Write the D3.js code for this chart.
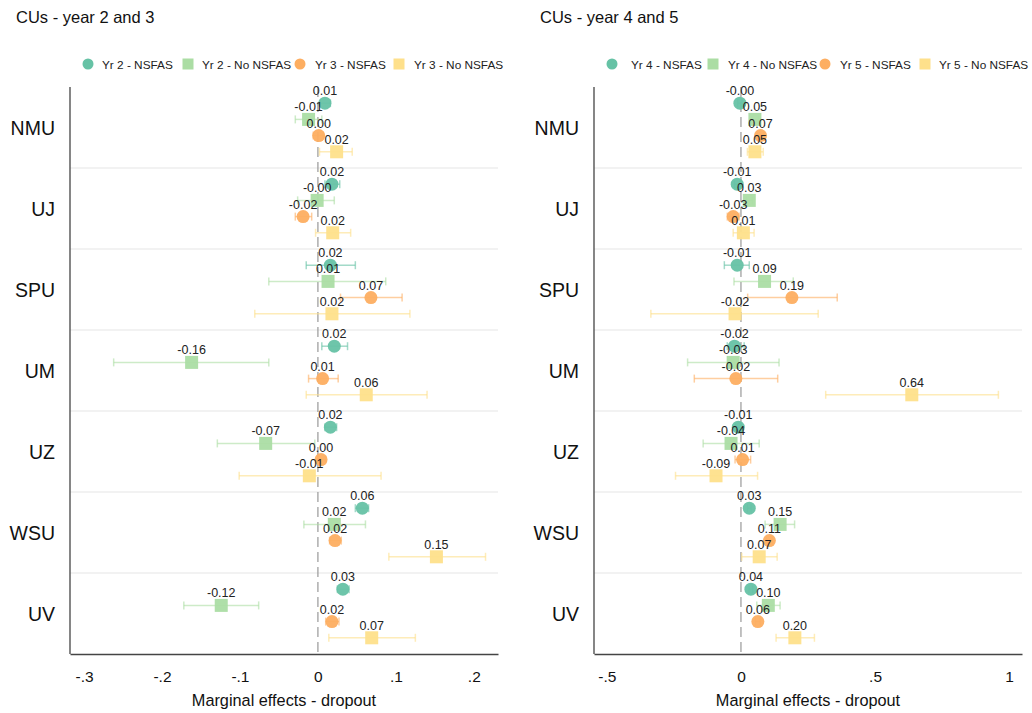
<!DOCTYPE html>
<html>
<head>
<meta charset="utf-8">
<script src="https://cdn.jsdelivr.net/npm/d3@7"></script>
<style>
  body { margin: 0; background: #fff; font-family: "Liberation Sans", Arial, sans-serif; }
  text { font-family: "Liberation Sans", Arial, sans-serif; }
</style>
</head>
<body>
<svg id="chart" width="1032" height="713"></svg>
<script>
var schools = ['NMU', 'UJ', 'SPU', 'UM', 'UZ', 'WSU', 'UV'];
var colors = ['#66c2a5', '#abdda4', '#fdae61', '#fee08b'];
var shapes = ['circle', 'square', 'circle', 'square'];

// left panel - year 2 and 3
var seriesLeft = ['Yr 2 - NSFAS', 'Yr 2 - No NSFAS', 'Yr 3 - NSFAS', 'Yr 3 - No NSFAS'];
var yr2Nsfas    = [0.009, 0.018, 0.016, 0.021, 0.016, 0.057, 0.032];
var yr2NsfasLo  = [0.003, 0.009, -0.015, 0.005, 0.009, 0.048, 0.025];
var yr2NsfasHi  = [0.016, 0.028, 0.048, 0.038, 0.024, 0.065, 0.040];
var yr2NoNsfas   = [-0.012, -0.001, 0.013, -0.162, -0.067, 0.021, -0.124];
var yr2NoNsfasLo = [-0.029, -0.026, -0.063, -0.262, -0.129, -0.018, -0.172];
var yr2NoNsfasHi = [0.005, 0.021, 0.087, -0.063, -0.004, 0.061, -0.076];
var yr3Nsfas    = [0.001, -0.019, 0.068, 0.006, 0.004, 0.022, 0.018];
var yr3NsfasLo  = [-0.006, -0.029, 0.029, -0.012, -0.001, 0.015, 0.010];
var yr3NsfasHi  = [0.007, -0.008, 0.108, 0.026, 0.010, 0.030, 0.027];
var yr3NoNsfas   = [0.024, 0.019, 0.018, 0.062, -0.011, 0.152, 0.069];
var yr3NoNsfasLo = [0.002, -0.003, -0.081, -0.015, -0.101, 0.091, 0.014];
var yr3NoNsfasHi = [0.044, 0.042, 0.118, 0.140, 0.081, 0.215, 0.125];

// right panel - year 4 and 5
var seriesRight = ['Yr 4 - NSFAS', 'Yr 4 - No NSFAS', 'Yr 5 - NSFAS', 'Yr 5 - No NSFAS'];
var yr4Nsfas    = [-0.004, -0.014, -0.014, -0.024, -0.010, 0.031, 0.037];
var yr4NsfasLo  = [-0.012, -0.024, -0.062, -0.051, -0.020, 0.024, 0.030];
var yr4NsfasHi  = [0.004, -0.004, 0.031, 0.012, 0.000, 0.038, 0.044];
var yr4NoNsfas   = [0.052, 0.031, 0.088, -0.029, -0.037, 0.146, 0.102];
var yr4NoNsfasLo = [0.040, 0.020, -0.026, -0.199, -0.141, 0.090, 0.059];
var yr4NoNsfasHi = [0.065, 0.042, 0.195, 0.142, 0.068, 0.200, 0.146];
var yr5Nsfas    = [0.073, -0.029, 0.190, -0.019, 0.006, 0.106, 0.063];
var yr5NsfasLo  = [0.060, -0.051, 0.025, -0.174, -0.022, 0.095, 0.054];
var yr5NsfasHi  = [0.085, -0.007, 0.359, 0.137, 0.036, 0.117, 0.072];
var yr5NoNsfas   = [0.052, 0.009, -0.022, 0.637, -0.093, 0.068, 0.201];
var yr5NoNsfasLo = [0.024, -0.029, -0.336, 0.316, -0.244, 0.003, 0.131];
var yr5NoNsfasHi = [0.083, 0.049, 0.288, 0.960, 0.062, 0.135, 0.274];

var leftTicks = [-0.3, -0.2, -0.1, 0, 0.1, 0.2];
var leftTickLabels = ['-.3', '-.2', '-.1', '0', '.1', '.2'];
var rightTicks = [-0.5, 0, 0.5, 1];
var rightTickLabels = ['-.5', '0', '.5', '1'];

var svg = d3.select('#chart');

function fmt(v) {
	return (v < 0 ? '-' : '') + Math.abs(v).toFixed(2);
}

function drawPanel(cfg) {
	var top = 87, bottom = 654;
	var x = d3.scaleLinear().domain(cfg.domain).range([cfg.left, cfg.right]);
	var y = d3.scaleBand().domain(schools).range([top, bottom]);
	var bw = y.bandwidth();

	var g = svg.append('g');

	// title
	g.append('text')
		.attr('x', cfg.titleX).attr('y', 23)
		.attr('font-size', 16.5).attr('fill', '#111')
		.text(cfg.title);

	// legend
	cfg.series.forEach(function(s, i) {
		var cx = cfg.legendSym[i], cy = 64;
		if (shapes[i] == 'circle') {
			g.append('circle').attr('cx', cx).attr('cy', cy).attr('r', 5.5).attr('fill', colors[i]);
		} else {
			g.append('rect').attr('x', cx - 5.5).attr('y', cy - 5.5).attr('width', 11).attr('height', 11).attr('fill', colors[i]);
		}
		g.append('text')
			.attr('x', cfg.legendText[i]).attr('y', cy + 4.5)
			.attr('font-size', 11.8).attr('fill', '#222')
			.text(s);
	});

	// group separators
	g.selectAll('.sep')
		.data(schools.slice(1))
		.enter().append('line')
		.attr('x1', cfg.left).attr('x2', cfg.right)
		.attr('y1', function(d) { return y(d); })
		.attr('y2', function(d) { return y(d); })
		.attr('stroke', '#e6e6e6').attr('stroke-width', 1.2);

	// zero line
	g.append('line')
		.attr('x1', x(0)).attr('x2', x(0))
		.attr('y1', top).attr('y2', bottom)
		.attr('stroke', '#999').attr('stroke-width', 1.2)
		.attr('stroke-dasharray', '10,5');

	// axes
	g.append('g')
		.attr('transform', 'translate(0,' + bottom + ')')
		.call(d3.axisBottom(x).tickValues(cfg.ticks).tickSize(0).tickPadding(17)
			.tickFormat(function(d, i) { return cfg.tickLabels[i]; }))
		.call(function(a) {
			a.select('.domain').attr('stroke', '#444').attr('stroke-width', 1.3);
			a.selectAll('text').attr('font-size', 15.5).attr('fill', '#111')
				.attr('font-family', '"Liberation Sans", Arial, sans-serif');
		});

	g.append('line')
		.attr('x1', cfg.left).attr('x2', cfg.left)
		.attr('y1', top).attr('y2', bottom)
		.attr('stroke', '#444').attr('stroke-width', 1.3);

	g.append('text')
		.attr('x', (cfg.left + cfg.right) / 2).attr('y', 706)
		.attr('text-anchor', 'middle').attr('font-size', 16.3).attr('fill', '#111')
		.text('Marginal effects - dropout');

	// school labels
	g.selectAll('.cat')
		.data(schools)
		.enter().append('text')
		.attr('x', cfg.left - 15)
		.attr('y', function(d) { return y(d) + bw / 2 + 7; })
		.attr('text-anchor', 'end').attr('font-size', 19.5).attr('fill', '#111')
		.text(function(d) { return d; });

	// points
	cfg.values.forEach(function(vals, k) {
		var pts = schools.map(function(s, i) {
			return { school: s, v: vals[i], lo: cfg.lows[k][i], hi: cfg.highs[k][i] };
		});
		var py = function(d) { return y(d.school) + bw * (k + 1) / 5; };
		var sg = g.append('g');

		sg.selectAll('.ci').data(pts).enter().append('line')
			.attr('x1', function(d) { return x(d.lo); })
			.attr('x2', function(d) { return x(d.hi); })
			.attr('y1', py).attr('y2', py)
			.attr('stroke', colors[k]).attr('stroke-width', 1.5).attr('stroke-opacity', 0.6);
		['lo', 'hi'].forEach(function(e) {
			sg.selectAll('.cap-' + e).data(pts).enter().append('line')
				.attr('x1', function(d) { return x(d[e]); })
				.attr('x2', function(d) { return x(d[e]); })
				.attr('y1', function(d) { return py(d) - 4; })
				.attr('y2', function(d) { return py(d) + 4; })
				.attr('stroke', colors[k]).attr('stroke-width', 1.5).attr('stroke-opacity', 0.6);
		});

		if (shapes[k] == 'circle') {
			sg.selectAll('.mk').data(pts).enter().append('circle')
				.attr('cx', function(d) { return x(d.v); })
				.attr('cy', py).attr('r', 6.5)
				.attr('fill', colors[k]).attr('fill-opacity', 0.95);
		} else {
			sg.selectAll('.mk').data(pts).enter().append('rect')
				.attr('x', function(d) { return x(d.v) - 6.5; })
				.attr('y', function(d) { return py(d) - 6.5; })
				.attr('width', 13).attr('height', 13)
				.attr('fill', colors[k]).attr('fill-opacity', 0.95);
		}
		cfg.labelLayer.push({ pts: pts, py: py });
	});

	// value labels on top
	cfg.labelLayer.forEach(function(l) {
		g.selectAll(null).data(l.pts).enter().append('text')
			.attr('x', function(d) { return x(d.v); })
			.attr('y', function(d) { return l.py(d) - 8; })
			.attr('text-anchor', 'middle').attr('font-size', 12.5).attr('fill', '#222')
			.text(function(d) { return fmt(d.v); });
	});
}

drawPanel({
	title: 'CUs - year 2 and 3', titleX: 16,
	left: 70, right: 498, domain: [-0.318, 0.231],
	ticks: leftTicks, tickLabels: leftTickLabels,
	series: seriesLeft,
	legendSym: [88, 188, 300, 399], legendText: [102, 202, 315, 414],
	values: [yr2Nsfas, yr2NoNsfas, yr3Nsfas, yr3NoNsfas],
	lows: [yr2NsfasLo, yr2NoNsfasLo, yr3NsfasLo, yr3NoNsfasLo],
	highs: [yr2NsfasHi, yr2NoNsfasHi, yr3NsfasHi, yr3NoNsfasHi],
	labelLayer: []
});

drawPanel({
	title: 'CUs - year 4 and 5', titleX: 540,
	left: 594, right: 1022, domain: [-0.548, 1.048],
	ticks: rightTicks, tickLabels: rightTickLabels,
	series: seriesRight,
	legendSym: [612, 713, 825, 925], legendText: [631, 728, 840, 939],
	values: [yr4Nsfas, yr4NoNsfas, yr5Nsfas, yr5NoNsfas],
	lows: [yr4NsfasLo, yr4NoNsfasLo, yr5NsfasLo, yr5NoNsfasLo],
	highs: [yr4NsfasHi, yr4NoNsfasHi, yr5NsfasHi, yr5NoNsfasHi],
	labelLayer: []
});
</script>
</body>
</html>
